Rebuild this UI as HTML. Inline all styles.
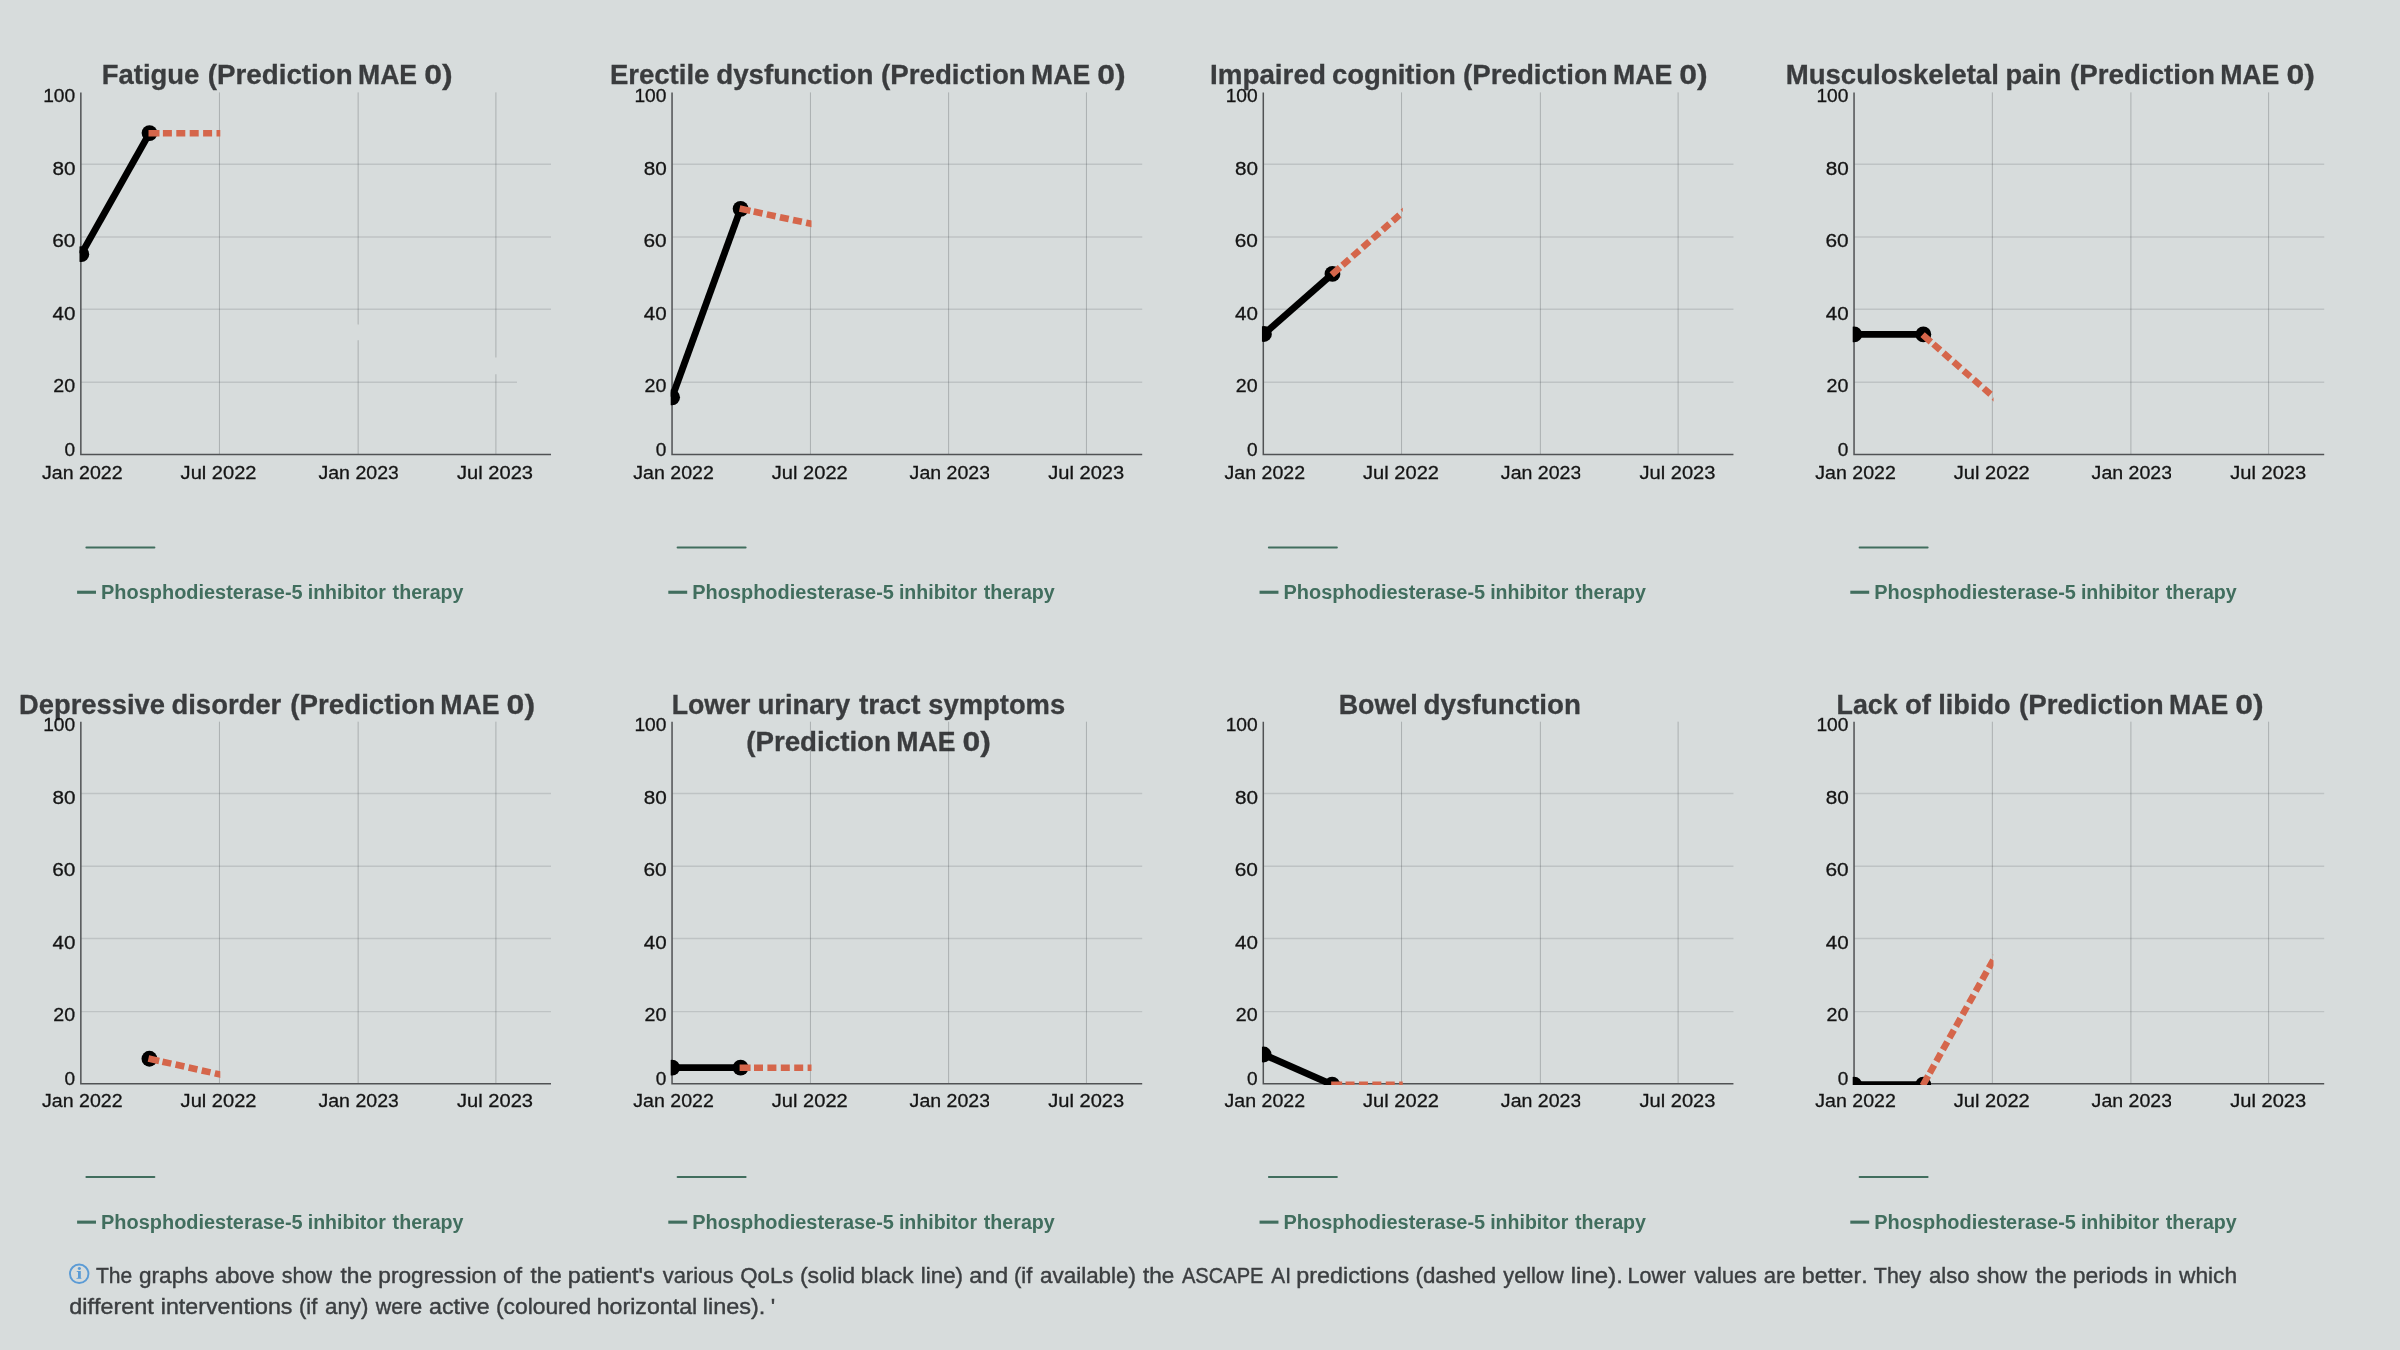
<!DOCTYPE html><html><head><meta charset="utf-8"><title>QoL charts</title>
<style>html,body{margin:0;padding:0;background:#d7dcdc;}body{width:2400px;height:1350px;overflow:hidden;position:relative;font-family:"Liberation Sans",sans-serif;}#w{position:absolute;left:0;top:0;width:2400px;height:1350px;will-change:transform}svg{position:absolute;left:0;top:0;display:block}text{font-family:"Liberation Sans",sans-serif;font-kerning:none}.t{font-weight:bold;font-size:27px;fill:#3a3c3e;stroke:#3a3c3e;stroke-width:.3px}.l{font-size:19.1px;fill:#141414;stroke:#141414;stroke-width:.3px}.gv{stroke:rgba(25,30,35,0.23);stroke-width:1;fill:none}.gh{stroke:rgba(30,40,45,0.135);stroke-width:1.4;fill:none}.a{stroke:#505254;stroke-width:1.5;fill:none}.s{stroke:#000;stroke-width:6.8;fill:none;stroke-linecap:butt}.p{stroke:#d5664b;stroke-width:6.6;fill:none}.c{fill:#000}.h{stroke:#416e5e;stroke-width:2;stroke-linecap:round}.k{font-weight:bold;font-size:19.6px;fill:#416e5e}.ft{font-size:22px;fill:#3b3e40;stroke:#3b3e40;stroke-width:.4px}</style></head><body><div id="w">
<svg width="2400" height="1350" viewBox="0 0 2400 1350">
<defs>
<clipPath id="cp0"><rect x="79.5" y="84.4" width="471.5" height="371.6"/></clipPath>
<clipPath id="pc0"><rect x="79.5" y="84.4" width="140.8" height="371.6"/></clipPath>
<clipPath id="xc0"><rect x="300" y="456" width="97.8" height="44"/></clipPath>
<clipPath id="cp1"><rect x="670.7" y="84.4" width="471.5" height="371.6"/></clipPath>
<clipPath id="pc1"><rect x="670.7" y="84.4" width="140.8" height="371.6"/></clipPath>
<clipPath id="xc1"><rect x="891.2" y="456" width="97.8" height="44"/></clipPath>
<clipPath id="cp2"><rect x="1261.95" y="84.4" width="471.5" height="371.6"/></clipPath>
<clipPath id="pc2"><rect x="1261.95" y="84.4" width="140.8" height="371.6"/></clipPath>
<clipPath id="xc2"><rect x="1482.45" y="456" width="97.8" height="44"/></clipPath>
<clipPath id="cp3"><rect x="1852.7" y="84.4" width="471.5" height="371.6"/></clipPath>
<clipPath id="pc3"><rect x="1852.7" y="84.4" width="140.8" height="371.6"/></clipPath>
<clipPath id="xc3"><rect x="2073.2" y="456" width="97.8" height="44"/></clipPath>
<clipPath id="cp4"><rect x="79.5" y="713.4" width="471.5" height="371.6"/></clipPath>
<clipPath id="pc4"><rect x="79.5" y="713.4" width="140.8" height="371.6"/></clipPath>
<clipPath id="xc4"><rect x="300" y="1085" width="97.8" height="44"/></clipPath>
<clipPath id="cp5"><rect x="670.7" y="713.4" width="471.5" height="371.6"/></clipPath>
<clipPath id="pc5"><rect x="670.7" y="713.4" width="140.8" height="371.6"/></clipPath>
<clipPath id="xc5"><rect x="891.2" y="1085" width="97.8" height="44"/></clipPath>
<clipPath id="cp6"><rect x="1261.95" y="713.4" width="471.5" height="371.6"/></clipPath>
<clipPath id="pc6"><rect x="1261.95" y="713.4" width="140.8" height="371.6"/></clipPath>
<clipPath id="xc6"><rect x="1482.45" y="1085" width="97.8" height="44"/></clipPath>
<clipPath id="cp7"><rect x="1852.7" y="713.4" width="471.5" height="371.6"/></clipPath>
<clipPath id="pc7"><rect x="1852.7" y="713.4" width="140.8" height="371.6"/></clipPath>
<clipPath id="xc7"><rect x="2073.2" y="1085" width="97.8" height="44"/></clipPath>
</defs>
<text class="t" x="101.82" y="84" textLength="97.47" lengthAdjust="spacingAndGlyphs">Fatigue</text>
<text class="t" x="207.87" y="84" textLength="144.8" lengthAdjust="spacingAndGlyphs">(Prediction</text>
<text class="t" x="357.97" y="84" textLength="59.12" lengthAdjust="spacingAndGlyphs">MAE</text>
<text class="t" x="424.24" y="84" textLength="28.4" lengthAdjust="spacingAndGlyphs">0)</text>
<g transform="translate(0,0)">
<text class="l" x="43.19" y="102" textLength="32.01" lengthAdjust="spacingAndGlyphs">100</text>
<text class="l" x="52.45" y="174.6" textLength="23.01" lengthAdjust="spacingAndGlyphs">80</text>
<text class="l" x="52.29" y="247.4" textLength="23.17" lengthAdjust="spacingAndGlyphs">60</text>
<text class="l" x="52.58" y="319.8" textLength="22.88" lengthAdjust="spacingAndGlyphs">40</text>
<text class="l" x="53.36" y="392.4" textLength="21.86" lengthAdjust="spacingAndGlyphs">20</text>
<text class="l" x="64.61" y="455.6" textLength="10.59" lengthAdjust="spacingAndGlyphs">0</text>
</g>
<text class="l" x="42.04" y="478.5" textLength="80.59" lengthAdjust="spacingAndGlyphs">Jan 2022</text>
<text class="l" x="180.64" y="478.5" textLength="75.92" lengthAdjust="spacingAndGlyphs">Jul 2022</text>
<text class="l" x="318.44" y="478.5" textLength="80.46" lengthAdjust="spacingAndGlyphs" clip-path="url(#xc0)">Jan 2023</text>
<text class="l" x="457.04" y="478.5" textLength="76" lengthAdjust="spacingAndGlyphs">Jul 2023</text>
<g transform="translate(0,0)">
<path class="gv" d="M219.45 92.4V454.4M358.15 92.4V454.4M495.9 92.4V454.4"/>
<path class="gh" d="M80.85 164.2H551M80.85 237H551M80.85 309.2H551M80.85 382.3H551"/>
<path fill="#d7dcdc" d="M355 324.4h6v15.9h-6zM493 357.5h6v16.8h-6zM517 380h35v5h-35z"/>
<path class="a" d="M80.85 92.4V454.4H551"/>
</g>
<g clip-path="url(#cp0)"><g transform="translate(0,0)">
<path class="s" d="M81.3 254.2 L149.5 133.1"/>
<circle class="c" cx="81.3" cy="254.2" r="7.9"/>
<circle class="c" cx="149.5" cy="133.1" r="7.9"/>
</g></g><g clip-path="url(#pc0)"><g transform="translate(0,0)">
<path class="p" d="M148.5 133.2L224.4 133.2" stroke-dasharray="11 3.4 9 4.4 9 4.4 9 4.4 9 4.4 9 4.4 9 4.4 9 4.4 9 4.4 9 4.4 9 4.4 9 4.4 9 4.4"/>
</g></g>
<g transform="translate(0,0)">
<path class="h" d="M86.4 547.5H154.4"/>
<rect x="77.1" y="590.7" width="18.9" height="3.1" fill="#416e5e"/>
<text class="k" x="101.02" y="598.7" textLength="201.69" lengthAdjust="spacingAndGlyphs">Phosphodiesterase-5</text>
<text class="k" x="307.73" y="598.7" textLength="78.21" lengthAdjust="spacingAndGlyphs">inhibitor</text>
<text class="k" x="392.61" y="598.7" textLength="70.89" lengthAdjust="spacingAndGlyphs">therapy</text>
</g>
<text class="t" x="609.91" y="84" textLength="99.43" lengthAdjust="spacingAndGlyphs">Erectile</text>
<text class="t" x="716.21" y="84" textLength="157.16" lengthAdjust="spacingAndGlyphs">dysfunction</text>
<text class="t" x="880.97" y="84" textLength="144.8" lengthAdjust="spacingAndGlyphs">(Prediction</text>
<text class="t" x="1031.07" y="84" textLength="59.12" lengthAdjust="spacingAndGlyphs">MAE</text>
<text class="t" x="1097.34" y="84" textLength="28.4" lengthAdjust="spacingAndGlyphs">0)</text>
<g transform="translate(591.2,0)">
<text class="l" x="43.19" y="102" textLength="32.01" lengthAdjust="spacingAndGlyphs">100</text>
<text class="l" x="52.45" y="174.6" textLength="23.01" lengthAdjust="spacingAndGlyphs">80</text>
<text class="l" x="52.29" y="247.4" textLength="23.17" lengthAdjust="spacingAndGlyphs">60</text>
<text class="l" x="52.58" y="319.8" textLength="22.88" lengthAdjust="spacingAndGlyphs">40</text>
<text class="l" x="53.36" y="392.4" textLength="21.86" lengthAdjust="spacingAndGlyphs">20</text>
<text class="l" x="64.61" y="455.6" textLength="10.59" lengthAdjust="spacingAndGlyphs">0</text>
</g>
<text class="l" x="633.24" y="478.5" textLength="80.59" lengthAdjust="spacingAndGlyphs">Jan 2022</text>
<text class="l" x="771.84" y="478.5" textLength="75.92" lengthAdjust="spacingAndGlyphs">Jul 2022</text>
<text class="l" x="909.64" y="478.5" textLength="80.46" lengthAdjust="spacingAndGlyphs" clip-path="url(#xc1)">Jan 2023</text>
<text class="l" x="1048.24" y="478.5" textLength="76" lengthAdjust="spacingAndGlyphs">Jul 2023</text>
<g transform="translate(591.2,0)">
<path class="gv" d="M219.25 92.4V454.4M357.4 92.4V454.4M495.25 92.4V454.4"/>
<path class="gh" d="M80.85 164.2H551M80.85 237H551M80.85 309.2H551M80.85 382.3H551"/>
<path class="a" d="M80.85 92.4V454.4H551"/>
</g>
<g clip-path="url(#cp1)"><g transform="translate(591.2,0)">
<path class="s" d="M80.9 397.3 L149.4 208.8"/>
<circle class="c" cx="80.9" cy="397.3" r="7.9"/>
<circle class="c" cx="149.4" cy="208.8" r="7.9"/>
</g></g><g clip-path="url(#pc1)"><g transform="translate(591.2,0)">
<path class="p" d="M148.42 208.59L224.31 224.73" stroke-dasharray="11 3.4 9 4.4 9 4.4 9 4.4 9 4.4 9 4.4 9 4.4 9 4.4 9 4.4 9 4.4 9 4.4 9 4.4 9 4.4"/>
</g></g>
<g transform="translate(591.2,0)">
<path class="h" d="M86.4 547.5H154.4"/>
<rect x="77.1" y="590.7" width="18.9" height="3.1" fill="#416e5e"/>
<text class="k" x="101.02" y="598.7" textLength="201.69" lengthAdjust="spacingAndGlyphs">Phosphodiesterase-5</text>
<text class="k" x="307.73" y="598.7" textLength="78.21" lengthAdjust="spacingAndGlyphs">inhibitor</text>
<text class="k" x="392.61" y="598.7" textLength="70.89" lengthAdjust="spacingAndGlyphs">therapy</text>
</g>
<text class="t" x="1209.99" y="84" textLength="115.89" lengthAdjust="spacingAndGlyphs">Impaired</text>
<text class="t" x="1332.03" y="84" textLength="123.73" lengthAdjust="spacingAndGlyphs">cognition</text>
<text class="t" x="1462.97" y="84" textLength="144.8" lengthAdjust="spacingAndGlyphs">(Prediction</text>
<text class="t" x="1613.07" y="84" textLength="59.12" lengthAdjust="spacingAndGlyphs">MAE</text>
<text class="t" x="1679.34" y="84" textLength="28.4" lengthAdjust="spacingAndGlyphs">0)</text>
<g transform="translate(1182.45,0)">
<text class="l" x="43.19" y="102" textLength="32.01" lengthAdjust="spacingAndGlyphs">100</text>
<text class="l" x="52.45" y="174.6" textLength="23.01" lengthAdjust="spacingAndGlyphs">80</text>
<text class="l" x="52.29" y="247.4" textLength="23.17" lengthAdjust="spacingAndGlyphs">60</text>
<text class="l" x="52.58" y="319.8" textLength="22.88" lengthAdjust="spacingAndGlyphs">40</text>
<text class="l" x="53.36" y="392.4" textLength="21.86" lengthAdjust="spacingAndGlyphs">20</text>
<text class="l" x="64.61" y="455.6" textLength="10.59" lengthAdjust="spacingAndGlyphs">0</text>
</g>
<text class="l" x="1224.49" y="478.5" textLength="80.59" lengthAdjust="spacingAndGlyphs">Jan 2022</text>
<text class="l" x="1363.09" y="478.5" textLength="75.92" lengthAdjust="spacingAndGlyphs">Jul 2022</text>
<text class="l" x="1500.89" y="478.5" textLength="80.46" lengthAdjust="spacingAndGlyphs" clip-path="url(#xc2)">Jan 2023</text>
<text class="l" x="1639.49" y="478.5" textLength="76" lengthAdjust="spacingAndGlyphs">Jul 2023</text>
<g transform="translate(1182.45,0)">
<path class="gv" d="M219.1 92.4V454.4M357.95 92.4V454.4M495.65 92.4V454.4"/>
<path class="gh" d="M80.85 164.2H551M80.85 237H551M80.85 309.2H551M80.85 382.3H551"/>
<path class="a" d="M80.85 92.4V454.4H551"/>
</g>
<g clip-path="url(#cp2)"><g transform="translate(1182.45,0)">
<path class="s" d="M81.5 334 L150 273.9"/>
<circle class="c" cx="81.5" cy="334" r="7.9"/>
<circle class="c" cx="150" cy="273.9" r="7.9"/>
</g></g><g clip-path="url(#pc2)"><g transform="translate(1182.45,0)">
<path class="p" d="M149.25 274.76L223.4 209.35" stroke-dasharray="11 3.4 9 4.4 9 4.4 9 4.4 9 4.4 9 4.4 9 4.4 9 4.4 9 4.4 9 4.4 9 4.4 9 4.4 9 4.4"/>
</g></g>
<g transform="translate(1182.45,0)">
<path class="h" d="M86.4 547.5H154.4"/>
<rect x="77.1" y="590.7" width="18.9" height="3.1" fill="#416e5e"/>
<text class="k" x="101.02" y="598.7" textLength="201.69" lengthAdjust="spacingAndGlyphs">Phosphodiesterase-5</text>
<text class="k" x="307.73" y="598.7" textLength="78.21" lengthAdjust="spacingAndGlyphs">inhibitor</text>
<text class="k" x="392.61" y="598.7" textLength="70.89" lengthAdjust="spacingAndGlyphs">therapy</text>
</g>
<text class="t" x="1785.7" y="84" textLength="213.15" lengthAdjust="spacingAndGlyphs">Musculoskeletal</text>
<text class="t" x="2005.46" y="84" textLength="55.88" lengthAdjust="spacingAndGlyphs">pain</text>
<text class="t" x="2070.07" y="84" textLength="144.8" lengthAdjust="spacingAndGlyphs">(Prediction</text>
<text class="t" x="2220.17" y="84" textLength="59.12" lengthAdjust="spacingAndGlyphs">MAE</text>
<text class="t" x="2286.44" y="84" textLength="28.4" lengthAdjust="spacingAndGlyphs">0)</text>
<g transform="translate(1773.2,0)">
<text class="l" x="43.19" y="102" textLength="32.01" lengthAdjust="spacingAndGlyphs">100</text>
<text class="l" x="52.45" y="174.6" textLength="23.01" lengthAdjust="spacingAndGlyphs">80</text>
<text class="l" x="52.29" y="247.4" textLength="23.17" lengthAdjust="spacingAndGlyphs">60</text>
<text class="l" x="52.58" y="319.8" textLength="22.88" lengthAdjust="spacingAndGlyphs">40</text>
<text class="l" x="53.36" y="392.4" textLength="21.86" lengthAdjust="spacingAndGlyphs">20</text>
<text class="l" x="64.61" y="455.6" textLength="10.59" lengthAdjust="spacingAndGlyphs">0</text>
</g>
<text class="l" x="1815.24" y="478.5" textLength="80.59" lengthAdjust="spacingAndGlyphs">Jan 2022</text>
<text class="l" x="1953.84" y="478.5" textLength="75.92" lengthAdjust="spacingAndGlyphs">Jul 2022</text>
<text class="l" x="2091.64" y="478.5" textLength="80.46" lengthAdjust="spacingAndGlyphs" clip-path="url(#xc3)">Jan 2023</text>
<text class="l" x="2230.24" y="478.5" textLength="76" lengthAdjust="spacingAndGlyphs">Jul 2023</text>
<g transform="translate(1773.2,0)">
<path class="gv" d="M219.15 92.4V454.4M357.7 92.4V454.4M495.4 92.4V454.4"/>
<path class="gh" d="M80.85 164.2H551M80.85 237H551M80.85 309.2H551M80.85 382.3H551"/>
<path class="a" d="M80.85 92.4V454.4H551"/>
</g>
<g clip-path="url(#cp3)"><g transform="translate(1773.2,0)">
<path class="s" d="M81 334.4 L150.15 334.4"/>
<circle class="c" cx="81" cy="334.4" r="7.9"/>
<circle class="c" cx="150.15" cy="334.4" r="7.9"/>
</g></g><g clip-path="url(#pc3)"><g transform="translate(1773.2,0)">
<path class="p" d="M149.4 334.64L223.41 399.64" stroke-dasharray="11 3.4 9 4.4 9 4.4 9 4.4 9 4.4 9 4.4 9 4.4 9 4.4 9 4.4 9 4.4 9 4.4 9 4.4 9 4.4"/>
</g></g>
<g transform="translate(1773.2,0)">
<path class="h" d="M86.4 547.5H154.4"/>
<rect x="77.1" y="590.7" width="18.9" height="3.1" fill="#416e5e"/>
<text class="k" x="101.02" y="598.7" textLength="201.69" lengthAdjust="spacingAndGlyphs">Phosphodiesterase-5</text>
<text class="k" x="307.73" y="598.7" textLength="78.21" lengthAdjust="spacingAndGlyphs">inhibitor</text>
<text class="k" x="392.61" y="598.7" textLength="70.89" lengthAdjust="spacingAndGlyphs">therapy</text>
</g>
<text class="t" x="19.12" y="713.7" textLength="145.86" lengthAdjust="spacingAndGlyphs">Depressive</text>
<text class="t" x="171.47" y="713.7" textLength="109.84" lengthAdjust="spacingAndGlyphs">disorder</text>
<text class="t" x="290.27" y="713.7" textLength="144.8" lengthAdjust="spacingAndGlyphs">(Prediction</text>
<text class="t" x="440.37" y="713.7" textLength="59.12" lengthAdjust="spacingAndGlyphs">MAE</text>
<text class="t" x="506.64" y="713.7" textLength="28.4" lengthAdjust="spacingAndGlyphs">0)</text>
<g transform="translate(0,629)">
<text class="l" x="43.19" y="102" textLength="32.01" lengthAdjust="spacingAndGlyphs">100</text>
<text class="l" x="52.45" y="174.6" textLength="23.01" lengthAdjust="spacingAndGlyphs">80</text>
<text class="l" x="52.29" y="247.4" textLength="23.17" lengthAdjust="spacingAndGlyphs">60</text>
<text class="l" x="52.58" y="319.8" textLength="22.88" lengthAdjust="spacingAndGlyphs">40</text>
<text class="l" x="53.36" y="392.4" textLength="21.86" lengthAdjust="spacingAndGlyphs">20</text>
<text class="l" x="64.61" y="455.6" textLength="10.59" lengthAdjust="spacingAndGlyphs">0</text>
</g>
<text class="l" x="42.04" y="1107.2" textLength="80.59" lengthAdjust="spacingAndGlyphs">Jan 2022</text>
<text class="l" x="180.64" y="1107.2" textLength="75.92" lengthAdjust="spacingAndGlyphs">Jul 2022</text>
<text class="l" x="318.44" y="1107.2" textLength="80.46" lengthAdjust="spacingAndGlyphs" clip-path="url(#xc4)">Jan 2023</text>
<text class="l" x="457.04" y="1107.2" textLength="76" lengthAdjust="spacingAndGlyphs">Jul 2023</text>
<g transform="translate(0,629.3)">
<path class="gv" d="M219.45 92.4V454.4M358.15 92.4V454.4M495.9 92.4V454.4"/>
<path class="gh" d="M80.85 164.2H551M80.85 237H551M80.85 309.2H551M80.85 382.3H551"/>
<path class="a" d="M80.85 92.4V454.4H551"/>
</g>
<g clip-path="url(#cp4)"><g transform="translate(0,629)">
<circle class="c" cx="149.4" cy="429.75" r="7.9"/>
</g></g><g clip-path="url(#pc4)"><g transform="translate(0,629)">
<path class="p" d="M148.42 429.53L224.3 446.47" stroke-dasharray="11 3.4 9 4.4 9 4.4 9 4.4 9 4.4 9 4.4 9 4.4 9 4.4 9 4.4 9 4.4 9 4.4 9 4.4 9 4.4"/>
</g></g>
<g transform="translate(0,629.5)">
<path class="h" d="M86.4 547.5H154.4"/>
<rect x="77.1" y="591.1" width="18.9" height="3.1" fill="#416e5e"/>
<text class="k" x="101.02" y="599.1" textLength="201.69" lengthAdjust="spacingAndGlyphs">Phosphodiesterase-5</text>
<text class="k" x="307.73" y="599.1" textLength="78.21" lengthAdjust="spacingAndGlyphs">inhibitor</text>
<text class="k" x="392.61" y="599.1" textLength="70.89" lengthAdjust="spacingAndGlyphs">therapy</text>
</g>
<text class="t" x="671.66" y="713.7" textLength="78.79" lengthAdjust="spacingAndGlyphs">Lower</text>
<text class="t" x="757.66" y="713.7" textLength="92.44" lengthAdjust="spacingAndGlyphs">urinary</text>
<text class="t" x="858.9" y="713.7" textLength="61.49" lengthAdjust="spacingAndGlyphs">tract</text>
<text class="t" x="928.29" y="713.7" textLength="136.88" lengthAdjust="spacingAndGlyphs">symptoms</text>
<text class="t" x="746.17" y="750.7" textLength="144.8" lengthAdjust="spacingAndGlyphs">(Prediction</text>
<text class="t" x="896.27" y="750.7" textLength="59.12" lengthAdjust="spacingAndGlyphs">MAE</text>
<text class="t" x="962.54" y="750.7" textLength="28.4" lengthAdjust="spacingAndGlyphs">0)</text>
<g transform="translate(591.2,629)">
<text class="l" x="43.19" y="102" textLength="32.01" lengthAdjust="spacingAndGlyphs">100</text>
<text class="l" x="52.45" y="174.6" textLength="23.01" lengthAdjust="spacingAndGlyphs">80</text>
<text class="l" x="52.29" y="247.4" textLength="23.17" lengthAdjust="spacingAndGlyphs">60</text>
<text class="l" x="52.58" y="319.8" textLength="22.88" lengthAdjust="spacingAndGlyphs">40</text>
<text class="l" x="53.36" y="392.4" textLength="21.86" lengthAdjust="spacingAndGlyphs">20</text>
<text class="l" x="64.61" y="455.6" textLength="10.59" lengthAdjust="spacingAndGlyphs">0</text>
</g>
<text class="l" x="633.24" y="1107.2" textLength="80.59" lengthAdjust="spacingAndGlyphs">Jan 2022</text>
<text class="l" x="771.84" y="1107.2" textLength="75.92" lengthAdjust="spacingAndGlyphs">Jul 2022</text>
<text class="l" x="909.64" y="1107.2" textLength="80.46" lengthAdjust="spacingAndGlyphs" clip-path="url(#xc5)">Jan 2023</text>
<text class="l" x="1048.24" y="1107.2" textLength="76" lengthAdjust="spacingAndGlyphs">Jul 2023</text>
<g transform="translate(591.2,629.3)">
<path class="gv" d="M219.25 92.4V454.4M357.4 92.4V454.4M495.25 92.4V454.4"/>
<path class="gh" d="M80.85 164.2H551M80.85 237H551M80.85 309.2H551M80.85 382.3H551"/>
<path class="a" d="M80.85 92.4V454.4H551"/>
</g>
<g clip-path="url(#cp5)"><g transform="translate(591.2,629)">
<path class="s" d="M80.9 438.6 L149.4 438.6"/>
<circle class="c" cx="80.9" cy="438.6" r="7.9"/>
<circle class="c" cx="149.4" cy="438.6" r="7.9"/>
</g></g><g clip-path="url(#pc5)"><g transform="translate(591.2,629)">
<path class="p" d="M148.4 438.7L224.4 438.7" stroke-dasharray="11 3.4 9 4.4 9 4.4 9 4.4 9 4.4 9 4.4 9 4.4 9 4.4 9 4.4 9 4.4 9 4.4 9 4.4 9 4.4"/>
</g></g>
<g transform="translate(591.2,629.5)">
<path class="h" d="M86.4 547.5H154.4"/>
<rect x="77.1" y="591.1" width="18.9" height="3.1" fill="#416e5e"/>
<text class="k" x="101.02" y="599.1" textLength="201.69" lengthAdjust="spacingAndGlyphs">Phosphodiesterase-5</text>
<text class="k" x="307.73" y="599.1" textLength="78.21" lengthAdjust="spacingAndGlyphs">inhibitor</text>
<text class="k" x="392.61" y="599.1" textLength="70.89" lengthAdjust="spacingAndGlyphs">therapy</text>
</g>
<text class="t" x="1338.65" y="713.7" textLength="79.2" lengthAdjust="spacingAndGlyphs">Bowel</text>
<text class="t" x="1423.61" y="713.7" textLength="157.36" lengthAdjust="spacingAndGlyphs">dysfunction</text>
<g transform="translate(1182.45,629)">
<text class="l" x="43.19" y="102" textLength="32.01" lengthAdjust="spacingAndGlyphs">100</text>
<text class="l" x="52.45" y="174.6" textLength="23.01" lengthAdjust="spacingAndGlyphs">80</text>
<text class="l" x="52.29" y="247.4" textLength="23.17" lengthAdjust="spacingAndGlyphs">60</text>
<text class="l" x="52.58" y="319.8" textLength="22.88" lengthAdjust="spacingAndGlyphs">40</text>
<text class="l" x="53.36" y="392.4" textLength="21.86" lengthAdjust="spacingAndGlyphs">20</text>
<text class="l" x="64.61" y="455.6" textLength="10.59" lengthAdjust="spacingAndGlyphs">0</text>
</g>
<text class="l" x="1224.49" y="1107.2" textLength="80.59" lengthAdjust="spacingAndGlyphs">Jan 2022</text>
<text class="l" x="1363.09" y="1107.2" textLength="75.92" lengthAdjust="spacingAndGlyphs">Jul 2022</text>
<text class="l" x="1500.89" y="1107.2" textLength="80.46" lengthAdjust="spacingAndGlyphs" clip-path="url(#xc6)">Jan 2023</text>
<text class="l" x="1639.49" y="1107.2" textLength="76" lengthAdjust="spacingAndGlyphs">Jul 2023</text>
<g transform="translate(1182.45,629.3)">
<path class="gv" d="M219.1 92.4V454.4M357.95 92.4V454.4M495.65 92.4V454.4"/>
<path class="gh" d="M80.85 164.2H551M80.85 237H551M80.85 309.2H551M80.85 382.3H551"/>
<path class="a" d="M80.85 92.4V454.4H551"/>
</g>
<g clip-path="url(#cp6)"><g transform="translate(1182.45,629)">
<path class="s" d="M81.2 425.5 L149.7 455.7"/>
<circle class="c" cx="81.2" cy="425.5" r="7.9"/>
<circle class="c" cx="149.7" cy="455.7" r="7.9"/>
</g></g><g clip-path="url(#pc6)"><g transform="translate(1182.45,629)">
<path class="p" d="M148.7 455.75L224.9 455.75" stroke-dasharray="11 3.4 9 4.4 9 4.4 9 4.4 9 4.4 9 4.4 9 4.4 9 4.4 9 4.4 9 4.4 9 4.4 9 4.4 9 4.4"/>
</g></g>
<g transform="translate(1182.45,629.5)">
<path class="h" d="M86.4 547.5H154.4"/>
<rect x="77.1" y="591.1" width="18.9" height="3.1" fill="#416e5e"/>
<text class="k" x="101.02" y="599.1" textLength="201.69" lengthAdjust="spacingAndGlyphs">Phosphodiesterase-5</text>
<text class="k" x="307.73" y="599.1" textLength="78.21" lengthAdjust="spacingAndGlyphs">inhibitor</text>
<text class="k" x="392.61" y="599.1" textLength="70.89" lengthAdjust="spacingAndGlyphs">therapy</text>
</g>
<text class="t" x="1836.55" y="713.7" textLength="61.17" lengthAdjust="spacingAndGlyphs">Lack</text>
<text class="t" x="1904.88" y="713.7" textLength="25.97" lengthAdjust="spacingAndGlyphs">of</text>
<text class="t" x="1938.2" y="713.7" textLength="72.51" lengthAdjust="spacingAndGlyphs">libido</text>
<text class="t" x="2018.92" y="713.7" textLength="144.8" lengthAdjust="spacingAndGlyphs">(Prediction</text>
<text class="t" x="2169.02" y="713.7" textLength="59.12" lengthAdjust="spacingAndGlyphs">MAE</text>
<text class="t" x="2235.29" y="713.7" textLength="28.4" lengthAdjust="spacingAndGlyphs">0)</text>
<g transform="translate(1773.2,629)">
<text class="l" x="43.19" y="102" textLength="32.01" lengthAdjust="spacingAndGlyphs">100</text>
<text class="l" x="52.45" y="174.6" textLength="23.01" lengthAdjust="spacingAndGlyphs">80</text>
<text class="l" x="52.29" y="247.4" textLength="23.17" lengthAdjust="spacingAndGlyphs">60</text>
<text class="l" x="52.58" y="319.8" textLength="22.88" lengthAdjust="spacingAndGlyphs">40</text>
<text class="l" x="53.36" y="392.4" textLength="21.86" lengthAdjust="spacingAndGlyphs">20</text>
<text class="l" x="64.61" y="455.6" textLength="10.59" lengthAdjust="spacingAndGlyphs">0</text>
</g>
<text class="l" x="1815.24" y="1107.2" textLength="80.59" lengthAdjust="spacingAndGlyphs">Jan 2022</text>
<text class="l" x="1953.84" y="1107.2" textLength="75.92" lengthAdjust="spacingAndGlyphs">Jul 2022</text>
<text class="l" x="2091.64" y="1107.2" textLength="80.46" lengthAdjust="spacingAndGlyphs" clip-path="url(#xc7)">Jan 2023</text>
<text class="l" x="2230.24" y="1107.2" textLength="76" lengthAdjust="spacingAndGlyphs">Jul 2023</text>
<g transform="translate(1773.2,629.3)">
<path class="gv" d="M219.15 92.4V454.4M357.7 92.4V454.4M495.4 92.4V454.4"/>
<path class="gh" d="M80.85 164.2H551M80.85 237H551M80.85 309.2H551M80.85 382.3H551"/>
<path class="a" d="M80.85 92.4V454.4H551"/>
</g>
<g clip-path="url(#cp7)"><g transform="translate(1773.2,629)">
<path class="s" d="M81 455.7 L150 455.7"/>
<circle class="c" cx="81" cy="455.7" r="7.9"/>
<circle class="c" cx="150" cy="455.7" r="7.9"/>
</g></g><g clip-path="url(#pc7)"><g transform="translate(1773.2,629)">
<path class="p" d="M149.51 456.57L222.36 326.91" stroke-dasharray="11 3.4 9 4.4 9 4.4 9 4.4 9 4.4 9 4.4 9 4.4 9 4.4 9 4.4 9 4.4 9 4.4 9 4.4 9 4.4"/>
</g></g>
<g transform="translate(1773.2,629.5)">
<path class="h" d="M86.4 547.5H154.4"/>
<rect x="77.1" y="591.1" width="18.9" height="3.1" fill="#416e5e"/>
<text class="k" x="101.02" y="599.1" textLength="201.69" lengthAdjust="spacingAndGlyphs">Phosphodiesterase-5</text>
<text class="k" x="307.73" y="599.1" textLength="78.21" lengthAdjust="spacingAndGlyphs">inhibitor</text>
<text class="k" x="392.61" y="599.1" textLength="70.89" lengthAdjust="spacingAndGlyphs">therapy</text>
</g>
<circle cx="79.2" cy="1273.8" r="9.25" fill="none" stroke="#5b9bd5" stroke-width="1.9"/>
<path fill="#5b9bd5" d="M79.35 1267.1a1.6 1.5 0 1 0 0.01 0zM76.7 1270.9H80.8V1277.7L81.4 1278.1V1278.8H76.5V1278.1L78 1277.7V1272L76.7 1271.7z"/>
<text class="ft" x="95.88" y="1283" textLength="36.31" lengthAdjust="spacingAndGlyphs">The</text>
<text class="ft" x="139" y="1283" textLength="69.06" lengthAdjust="spacingAndGlyphs">graphs</text>
<text class="ft" x="215.02" y="1283" textLength="59.6" lengthAdjust="spacingAndGlyphs">above</text>
<text class="ft" x="281.75" y="1283" textLength="50.25" lengthAdjust="spacingAndGlyphs">show</text>
<text class="ft" x="340.41" y="1283" textLength="31.66" lengthAdjust="spacingAndGlyphs">the</text>
<text class="ft" x="378.29" y="1283" textLength="118.43" lengthAdjust="spacingAndGlyphs">progression</text>
<text class="ft" x="502.99" y="1283" textLength="19.02" lengthAdjust="spacingAndGlyphs">of</text>
<text class="ft" x="530.41" y="1283" textLength="31.24" lengthAdjust="spacingAndGlyphs">the</text>
<text class="ft" x="567.83" y="1283" textLength="87.07" lengthAdjust="spacingAndGlyphs">patient&#39;s</text>
<text class="ft" x="662.67" y="1283" textLength="70.77" lengthAdjust="spacingAndGlyphs">various</text>
<text class="ft" x="740.3" y="1283" textLength="53.16" lengthAdjust="spacingAndGlyphs">QoLs</text>
<text class="ft" x="799.92" y="1283" textLength="55.22" lengthAdjust="spacingAndGlyphs">(solid</text>
<text class="ft" x="860.89" y="1283" textLength="52.72" lengthAdjust="spacingAndGlyphs">black</text>
<text class="ft" x="920.85" y="1283" textLength="42.19" lengthAdjust="spacingAndGlyphs">line)</text>
<text class="ft" x="969.36" y="1283" textLength="38.79" lengthAdjust="spacingAndGlyphs">and</text>
<text class="ft" x="1013.99" y="1283" textLength="18.22" lengthAdjust="spacingAndGlyphs">(if</text>
<text class="ft" x="1040" y="1283" textLength="96.04" lengthAdjust="spacingAndGlyphs">available)</text>
<text class="ft" x="1143.01" y="1283" textLength="31.24" lengthAdjust="spacingAndGlyphs">the</text>
<text class="ft" x="1181.91" y="1283" textLength="81.6" lengthAdjust="spacingAndGlyphs">ASCAPE</text>
<text class="ft" x="1271.31" y="1283" textLength="19.66" lengthAdjust="spacingAndGlyphs">AI</text>
<text class="ft" x="1296.25" y="1283" textLength="112.85" lengthAdjust="spacingAndGlyphs">predictions</text>
<text class="ft" x="1415.57" y="1283" textLength="80.52" lengthAdjust="spacingAndGlyphs">(dashed</text>
<text class="ft" x="1503.3" y="1283" textLength="60.3" lengthAdjust="spacingAndGlyphs">yellow</text>
<text class="ft" x="1570.73" y="1283" textLength="52.12" lengthAdjust="spacingAndGlyphs">line).</text>
<text class="ft" x="1627.59" y="1283" textLength="58.42" lengthAdjust="spacingAndGlyphs">Lower</text>
<text class="ft" x="1694.28" y="1283" textLength="62.56" lengthAdjust="spacingAndGlyphs">values</text>
<text class="ft" x="1763.81" y="1283" textLength="31.81" lengthAdjust="spacingAndGlyphs">are</text>
<text class="ft" x="1801.85" y="1283" textLength="65.92" lengthAdjust="spacingAndGlyphs">better.</text>
<text class="ft" x="1873.87" y="1283" textLength="47.42" lengthAdjust="spacingAndGlyphs">They</text>
<text class="ft" x="1929.01" y="1283" textLength="40.57" lengthAdjust="spacingAndGlyphs">also</text>
<text class="ft" x="1976.75" y="1283" textLength="50.45" lengthAdjust="spacingAndGlyphs">show</text>
<text class="ft" x="2035.61" y="1283" textLength="31.03" lengthAdjust="spacingAndGlyphs">the</text>
<text class="ft" x="2072.87" y="1283" textLength="75.21" lengthAdjust="spacingAndGlyphs">periods</text>
<text class="ft" x="2154.47" y="1283" textLength="17.22" lengthAdjust="spacingAndGlyphs">in</text>
<text class="ft" x="2178.98" y="1283" textLength="58.14" lengthAdjust="spacingAndGlyphs">which</text>
<text class="ft" x="69.37" y="1314.2" textLength="84.45" lengthAdjust="spacingAndGlyphs">different</text>
<text class="ft" x="160.8" y="1314.2" textLength="131.69" lengthAdjust="spacingAndGlyphs">interventions</text>
<text class="ft" x="298.99" y="1314.2" textLength="18.22" lengthAdjust="spacingAndGlyphs">(if</text>
<text class="ft" x="325" y="1314.2" textLength="43.43" lengthAdjust="spacingAndGlyphs">any)</text>
<text class="ft" x="375.78" y="1314.2" textLength="46.42" lengthAdjust="spacingAndGlyphs">were</text>
<text class="ft" x="428.96" y="1314.2" textLength="60.72" lengthAdjust="spacingAndGlyphs">active</text>
<text class="ft" x="495.93" y="1314.2" textLength="95.19" lengthAdjust="spacingAndGlyphs">(coloured</text>
<text class="ft" x="596.74" y="1314.2" textLength="100.46" lengthAdjust="spacingAndGlyphs">horizontal</text>
<text class="ft" x="702.77" y="1314.2" textLength="62.63" lengthAdjust="spacingAndGlyphs">lines).</text>
<text class="ft" x="770.76" y="1314.2" textLength="4.46" lengthAdjust="spacingAndGlyphs">&#39;</text>
</svg></div></body></html>
